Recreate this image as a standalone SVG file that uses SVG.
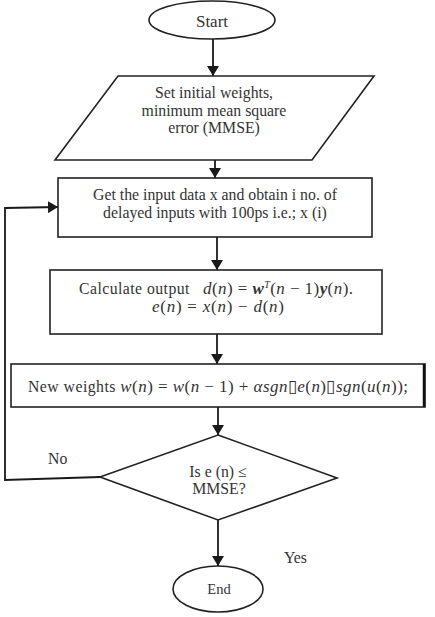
<svg xmlns="http://www.w3.org/2000/svg" width="435" height="617" viewBox="0 0 435 617">
  <defs>
    <marker id="arrow" viewBox="0 0 10 12" refX="10" refY="6" markerWidth="10" markerHeight="12" markerUnits="userSpaceOnUse" orient="auto">
      <path d="M0,0 L10,6 L0,12 Z" fill="#1a1a1a"/>
    </marker>
    <style>
      .shape { fill: #ffffff; stroke: #222222; stroke-width: 1.6; }
      .line { fill: none; stroke: #1a1a1a; stroke-width: 1.8; }
      .txt { font-family: "Liberation Serif", "Times New Roman", serif; font-size: 15.8px; fill: #333333; text-anchor: middle; }
      .lbl { font-family: "Liberation Serif", "Times New Roman", serif; font-size: 15.8px; fill: #333333; }
      .eq { font-size: 17px; }
      .m { font-style: italic; }
      .mb { font-style: italic; font-weight: bold; }
    </style>
  </defs>
  <rect width="435" height="617" fill="#ffffff"/>

  <!-- connectors -->
  <g id="connectors">
    <line class="line" x1="213" y1="39" x2="213" y2="76" marker-end="url(#arrow)"/>
    <line class="line" x1="215" y1="160" x2="215" y2="178" marker-end="url(#arrow)"/>
    <line class="line" x1="217" y1="237" x2="217" y2="270" marker-end="url(#arrow)"/>
    <line class="line" x1="217" y1="334" x2="217" y2="364" marker-end="url(#arrow)"/>
    <line class="line" x1="218" y1="407" x2="218" y2="435" marker-end="url(#arrow)"/>
    <line class="line" x1="218" y1="520" x2="218" y2="566" marker-end="url(#arrow)"/>
    <polyline class="line" points="100,477 5,480 5,208 58,207" marker-end="url(#arrow)"/>
  </g>

  <!-- start -->
  <g id="start">
    <ellipse class="shape" cx="212" cy="20" rx="63" ry="19"/>
    <text class="txt" x="212" y="27" style="font-size:17px">Start</text>
  </g>

  <!-- initialisation -->
  <g id="init">
    <polygon class="shape" points="118,76 374,76 312,160 55,160"/>
    <text class="txt" x="214" y="98">Set initial weights,</text>
    <text class="txt" x="214" y="116">minimum mean square</text>
    <text class="txt" x="214" y="133">error (MMSE)</text>
  </g>

  <!-- input -->
  <g id="input">
    <rect class="shape" x="58" y="178" width="314" height="59"/>
    <text class="txt" x="215" y="200">Get the input data x and obtain i no. of</text>
    <text class="txt" x="215" y="218">delayed inputs with 100ps i.e.; x (i)</text>
  </g>

  <!-- output calculation -->
  <g id="calc">
    <rect class="shape" x="50" y="270" width="332" height="64"/>
    <text class="txt" x="216" y="294" textLength="274" lengthAdjust="spacing">Calculate output <tspan xml:space="preserve">  </tspan><tspan class="eq"><tspan class="m">d</tspan>(<tspan class="m">n</tspan>) = <tspan class="mb">w</tspan><tspan class="m" font-size="10" dy="-6">T</tspan><tspan dy="6">(</tspan><tspan class="m">n</tspan> − 1)<tspan class="mb">y</tspan>(<tspan class="m">n</tspan>).</tspan></text>
    <text class="txt eq" x="218" y="312" textLength="132" lengthAdjust="spacing"><tspan class="m">e</tspan>(<tspan class="m">n</tspan>) = <tspan class="m">x</tspan>(<tspan class="m">n</tspan>) − <tspan class="m">d</tspan>(<tspan class="m">n</tspan>)</text>
  </g>

  <!-- weight update -->
  <g id="update">
    <rect class="shape" x="11" y="364" width="414" height="43"/>
    <line x1="424" y1="364" x2="424" y2="407" stroke="#111" stroke-width="2.5"/>
    <text class="txt" x="218" y="392" textLength="380" lengthAdjust="spacing">New weights <tspan class="eq"><tspan class="m">w</tspan>(<tspan class="m">n</tspan>) = <tspan class="m">w</tspan>(<tspan class="m">n</tspan> − 1) + <tspan class="m">αsgn</tspan>▯<tspan class="m">e</tspan>(<tspan class="m">n</tspan>)▯<tspan class="m">sgn</tspan>(<tspan class="m">u</tspan>(<tspan class="m">n</tspan>));</tspan></text>
  </g>

  <!-- decision -->
  <g id="decision">
    <polygon class="shape" points="218,435 337,478 218,520 100,477"/>
    <text class="txt" x="218" y="477">Is e (n) ≤</text>
    <text class="txt" x="219" y="494">MMSE?</text>
  </g>

  <!-- end -->
  <g id="end">
    <ellipse class="shape" cx="218" cy="589" rx="45" ry="23"/>
    <text class="txt" x="219" y="594" style="font-size:14.5px">End</text>
  </g>

  <!-- branch labels -->
  <g id="labels">
    <text class="lbl" x="48" y="464">No</text>
    <text class="lbl" x="284" y="563">Yes</text>
  </g>
</svg>
